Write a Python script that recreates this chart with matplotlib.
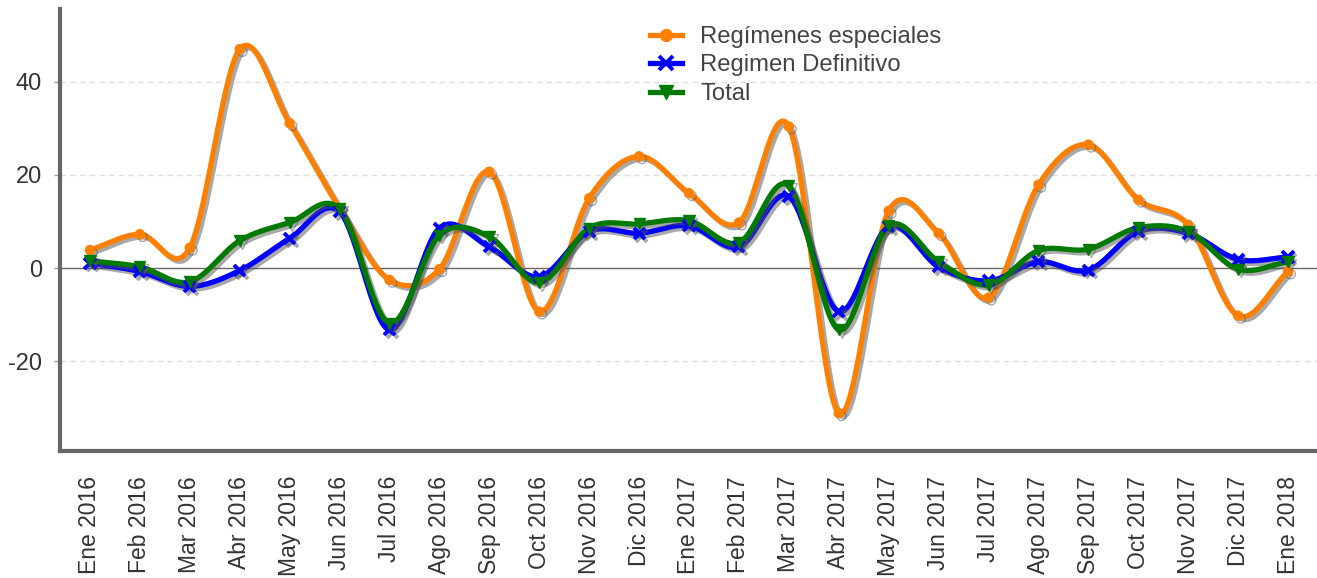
import numpy as np
import matplotlib
matplotlib.use("Agg")
import matplotlib.pyplot as plt
import matplotlib.patheffects as pe

categories = ["Ene 2016", "Feb 2016", "Mar 2016", "Abr 2016", "May 2016", "Jun 2016",
              "Jul 2016", "Ago 2016", "Sep 2016", "Oct 2016", "Nov 2016", "Dic 2016",
              "Ene 2017", "Feb 2017", "Mar 2017", "Abr 2017", "May 2017", "Jun 2017",
              "Jul 2017", "Ago 2017", "Sep 2017", "Oct 2017", "Nov 2017", "Dic 2017",
              "Ene 2018"]

regimenes_especiales = [3.9, 7.3, 4.4, 47.0, 31.1, 12.9, -2.5, -0.2, 20.7, -9.3, 15.0, 24.0,
                        16.1, 9.8, 30.4, -31.1, 12.3, 7.5, -6.3, 17.9, 26.5, 14.7, 9.3, -10.2, -0.7]
regimen_definitivo = [1.1, -0.7, -3.9, -0.5, 6.4, 12.1, -13.2, 8.6, 4.6, -1.8, 7.9, 7.5,
                      9.1, 4.6, 15.4, -9.3, 8.9, 0.3, -2.7, 1.4, -0.4, 7.9, 7.5, 1.9, 2.4]
total = [1.6, 0.3, -2.9, 5.9, 9.8, 12.7, -11.8, 7.1, 6.8, -3.1, 8.6, 9.5,
         10.2, 5.5, 17.7, -13.2, 9.1, 1.4, -3.6, 3.8, 4.1, 8.7, 7.9, -0.2, 1.4]

series_names = ["Regímenes especiales", "Regimen Definitivo", "Total"]
yticks = [-20, 0, 20, 40]


def smooth(y, n=30):
    """Catmull-Rom spline through the data points (rendering only)."""
    y = np.asarray(y, float)
    m = len(y)
    t = np.zeros(m)
    t[1:-1] = (y[2:] - y[:-2]) / 2.0
    t[0] = y[1] - y[0]
    t[-1] = y[-1] - y[-2]
    xs, ys = [], []
    for i in range(m - 1):
        s = np.linspace(0, 1, n, endpoint=(i == m - 2))
        h00 = 2 * s**3 - 3 * s**2 + 1
        h10 = s**3 - 2 * s**2 + s
        h01 = -2 * s**3 + 3 * s**2
        h11 = s**3 - s**2
        xs.append(i + s)
        ys.append(h00 * y[i] + h10 * t[i] + h01 * y[i + 1] + h11 * t[i + 1])
    return np.concatenate(xs), np.concatenate(ys)


plt.rcParams['font.family'] = ['Liberation Sans', 'DejaVu Sans']
fig = plt.figure(figsize=(13.17, 5.78), dpi=100)
ax = fig.add_axes([60 / 1317, 127 / 578, 1 - 60 / 1317, (451 - 9) / 578])

shadow = [pe.SimpleLineShadow(offset=(2.0, -2.0), shadow_color='#555555', alpha=0.5), pe.Normal()]

x = np.arange(len(categories))
styles = [
    dict(color='#ff8000', marker='o', ms=6.5, mew=1),
    dict(color='#0000ff', marker='x', ms=8, mew=2.8),
    dict(color='#007a00', marker='v', ms=8, mew=1),
]
handles = []
for vals, name, st in zip([regimenes_especiales, regimen_definitivo, total], series_names, styles):
    sx, sy = smooth(vals)
    ax.plot(sx, sy, color=st['color'], lw=3.8, solid_capstyle='round', path_effects=shadow, zorder=3)
    ax.plot(x, vals, ls='none', marker=st['marker'], ms=st['ms'], mew=st['mew'],
            color=st['color'], path_effects=shadow, zorder=4)
    h, = ax.plot([], [], color=st['color'], lw=3.8, marker=st['marker'], ms=st['ms'] + 2,
                 mew=st['mew'], label=name)
    handles.append(h)

ax.set_xlim(-0.6, 24.58)
ax.set_ylim(-39.2, 55.6)
ax.set_yticks(yticks)
ax.set_yticklabels([str(v) for v in yticks])
ax.set_xticks(x)
ax.set_xticklabels(categories, rotation=90)

for v in yticks:
    if v == 0:
        ax.axhline(0, color='#666666', lw=1, zorder=2)
    else:
        ax.axhline(v, color='#dddddd', lw=1, ls=(0, (4, 3)), zorder=1)

for s in ['top', 'right']:
    ax.spines[s].set_visible(False)
for s in ['left', 'bottom']:
    ax.spines[s].set_color('#666666')
    ax.spines[s].set_linewidth(3)

ax.tick_params(axis='y', length=4, width=1, color='#999999', pad=9, labelsize=17, labelcolor='#333333')
ax.tick_params(axis='x', length=0, pad=18, labelsize=16.5, labelcolor='#333333')

leg = fig.legend(handles=handles, loc='upper left', bbox_to_anchor=(650 / 1317, 1 - 26 / 578),
                 bbox_transform=fig.transFigure, frameon=False, fontsize=17.2, borderpad=0,
                 borderaxespad=0, labelspacing=0.27, handlelength=1.35, handletextpad=0.75)
for t in leg.get_texts():
    t.set_color('#444444')

fig.savefig('out.png', dpi=100)
